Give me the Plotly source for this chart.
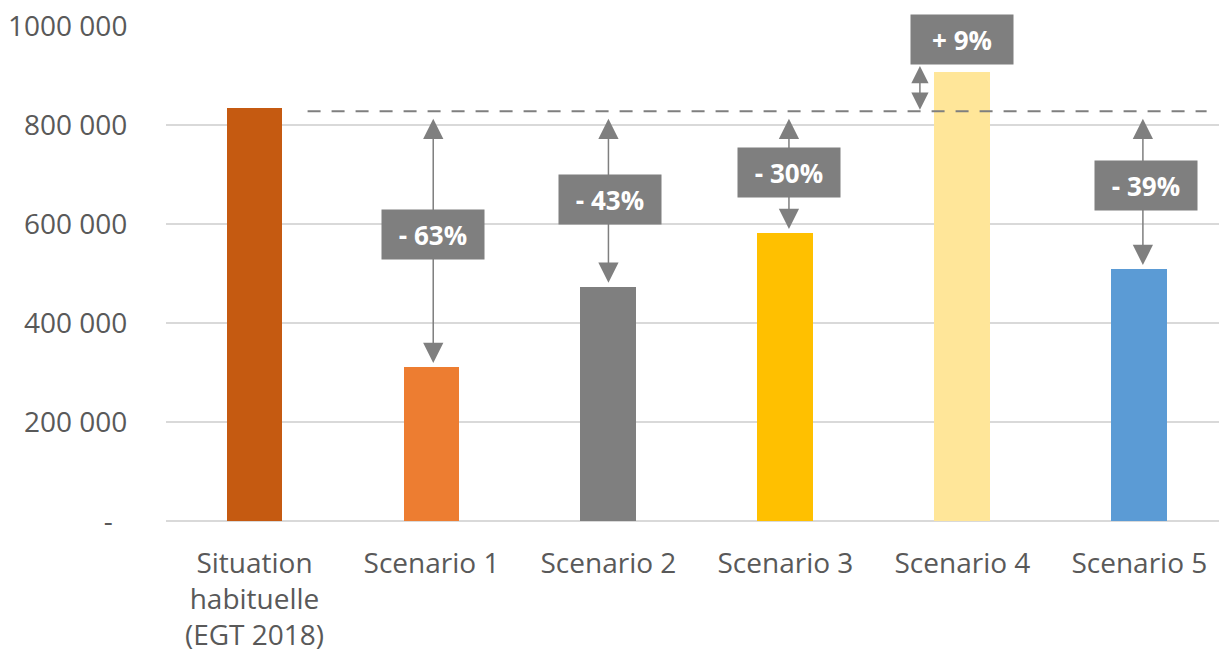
import plotly.graph_objects as go

categories = ["Situation<br>habituelle<br>(EGT 2018)", "Scenario 1", "Scenario 2",
              "Scenario 3", "Scenario 4", "Scenario 5"]
values = [834000, 311000, 473000, 582000, 907000, 509000]
reference_level = 828000
change_labels = [None, "- 63%", "- 43%", "- 30%", "+ 9%", "- 39%"]
bar_colors = ["#c55a11", "#ed7d31", "#7f7f7f", "#ffc000", "#ffe699", "#5b9bd5"]
y_tickvals = [0, 200000, 400000, 600000, 800000, 1000000]
y_ticktext = ["-\u00a0\u00a0", "200 000", "400 000", "600 000", "800 000", "1000 000"]

# layout positions for annotation boxes and arrows
label_x = [None, 1.01, 2.01, 3.02, 4.0, 5.04]
label_y = [None, 578000, 650000, 705000, 972000, 677000]
arrow_x = [None, 1.01, 2.0, 3.02, 3.76, 5.02]
arrow_overshoot = 12000  # extra reach of the upward arrow above its bar

xs = list(range(len(categories)))
fig = go.Figure()
fig.add_trace(go.Bar(x=xs, y=values, marker_color=bar_colors, width=0.316,
                     marker_line_width=0, showlegend=False))

GRAY = "#7f7f7f"
fig.add_shape(type="line", xref="x", yref="y", x0=0.3, x1=5.38,
              y0=reference_level, y1=reference_level,
              line=dict(color=GRAY, width=2, dash="13px,11px"))

for i in range(1, len(categories)):
    up = values[i] > reference_level
    end_y = values[i] + arrow_overshoot if up else values[i]
    size = 2.3 if up else 2.7
    fig.add_annotation(x=arrow_x[i], y=end_y, ax=arrow_x[i], ay=reference_level,
                       xref="x", yref="y", axref="x", ayref="y",
                       showarrow=True, arrowhead=2, startarrowhead=2,
                       arrowside="end+start", arrowsize=size, startarrowsize=size,
                       arrowwidth=1.5, arrowcolor=GRAY, text="",
                       standoff=(0 if up else 4), startstandoff=(0 if up else 6))
    fig.add_annotation(x=label_x[i], y=label_y[i], xref="x", yref="y",
                       text="<b>%s</b>" % change_labels[i], showarrow=False,
                       bgcolor=GRAY, width=100, height=47,
                       font=dict(family="Open Sans", size=26, color="white"))

fig.update_layout(
    width=1219, height=657,
    margin=dict(l=166, r=0, t=26, b=136),
    plot_bgcolor="white", paper_bgcolor="white",
    font=dict(family="Open Sans", size=28, color="#595959"),
    bargap=0,
    xaxis=dict(range=[-0.5, 5.45], tickvals=xs, ticktext=categories,
               showgrid=False, zeroline=False, showline=False,
               ticks="outside", ticklen=17, tickcolor="rgba(0,0,0,0)",
               tickfont=dict(size=28, color="#595959")),
    yaxis=dict(range=[0, 1000000], tickvals=y_tickvals, ticktext=y_ticktext,
               showgrid=True, gridcolor="#d9d9d9", gridwidth=2,
               zeroline=True, zerolinecolor="#d9d9d9", zerolinewidth=2,
               showline=False, ticks="outside", ticklen=32,
               tickcolor="rgba(0,0,0,0)",
               tickfont=dict(size=28, color="#595959")),
)

fig.write_html("out.html")
